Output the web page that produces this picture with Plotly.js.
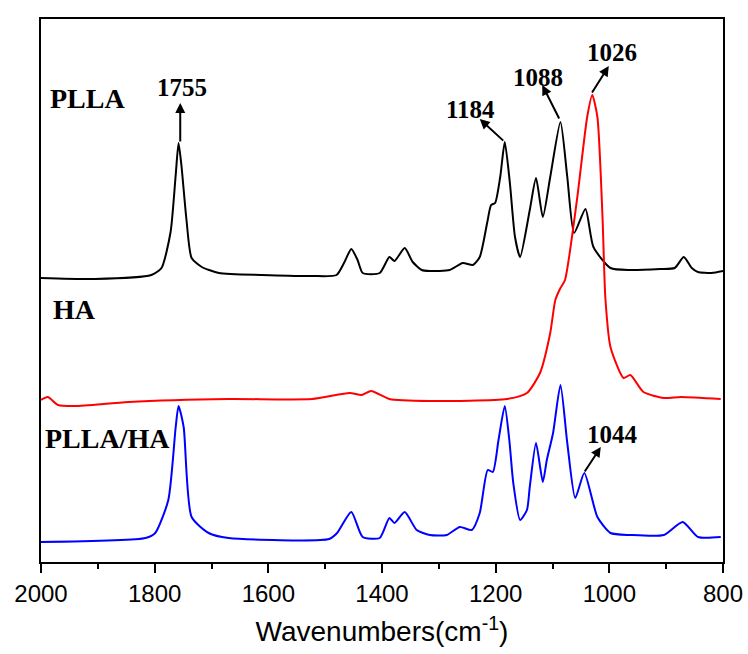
<!DOCTYPE html>
<html>
<head>
<meta charset="utf-8">
<script src="https://cdn.plot.ly/plotly-3.0.1.min.js"></script>
<style>body{margin:0;padding:0;background:#fff;}#chart{width:748px;height:654px;}</style>
</head>
<body>
<div id="chart"></div>
<script>
// Wavenumbers (cm-1) and relative intensities (arbitrary, stacked offsets)
const pllaWn = [2000,1905,1806,1788,1772,1763,1758,1753,1744,1735,1717,1687,1611,1523,1480,1466,1454,1443,1434,1404,1387,1378,1360,1346,1330,1316,1281,1258,1240,1228,1215,1208,1201,1192,1184,1175,1166,1157,1140,1129,1117,1104,1086,1074,1062,1042,1028,998,963,910,885,869,855,844,820,800];
const pllaY  = [288,287,291,298,334,391,423,401,346,308,299,293,291,290,291,304,317,306,293,293,309,305,318,304,296,295,296,303,301,309,343,361,363,389,424,383,329,309,356,388,349,389,444,389,333,357,319,298,296,297,298,309,298,294,293,295];

const haWn = [2000,1988,1970,1940,1846,1670,1523,1457,1436,1419,1387,1316,1180,1145,1122,1104,1095,1086,1078,1057,1039,1030,1021,1012,1007,998,975,963,940,904,874,804];
const haY  = [166,169,161,160,164,167,167,173,171,175,167,165,167,173,193,233,266,278,286,366,449,471,449,349,268,219,188,191,174,168,169,167];

const blendWn = [2000,1816,1799,1776,1763,1758,1749,1735,1705,1670,1493,1479,1454,1434,1404,1387,1378,1360,1339,1316,1286,1263,1242,1228,1214,1205,1195,1184,1176,1169,1157,1145,1140,1129,1117,1110,1099,1086,1074,1060,1044,1021,998,963,904,871,844,804];
const blendY  = [24,28,33,66,139,160,139,49,33,28,27,33,54,29,28,48,43,54,36,31,31,39,36,53,96,94,126,160,126,83,46,56,79,123,84,106,133,181,123,68,93,49,33,31,31,44,29,29];

const tickVals = [2000,1800,1600,1400,1200,1000,800];
const tickText = ['2000','1800','1600','1400','1200','1000','800'];

const sampleNames = ['PLLA','HA','PLLA/HA'];
const peakLabels = ['1755','1184','1088','1026','1044'];

const traces = [
  {x: pllaWn, y: pllaY, mode:'lines', line:{color:'#000000', width:2, shape:'spline', smoothing:0.6}, name:sampleNames[0]},
  {x: haWn, y: haY, mode:'lines', line:{color:'#ff0000', width:2, shape:'spline', smoothing:0.6}, name:sampleNames[1]},
  {x: blendWn, y: blendY, mode:'lines', line:{color:'#0000ff', width:2, shape:'spline', smoothing:0.6}, name:sampleNames[2]}
];

const nameFont = {family:'Liberation Serif, Times New Roman, serif', size:28, color:'#000'};
const peakFont = {family:'Liberation Serif, Times New Roman, serif', size:25, color:'#000'};

function arrow(x, y, ax, ay){
  return {x:x, y:y, ax:ax, ay:ay, xref:'x', yref:'y', axref:'x', ayref:'y', text:'', showarrow:true,
          arrowhead:2, arrowsize:1, arrowwidth:2, arrowcolor:'#000', standoff:0, startstandoff:0};
}
function label(t, x, y, font, xanchor){
  return {x:x, y:y, xref:'x', yref:'y', text:'<b>'+t+'</b>', showarrow:false, font:font, xanchor:xanchor||'center', yanchor:'middle', borderpad:0};
}

const annotations = [
  label(sampleNames[0], 1986, 468, nameFont, 'left'),
  label(sampleNames[1], 1981, 257, nameFont, 'left'),
  label(sampleNames[2], 1995, 128, nameFont, 'left'),
  label(peakLabels[0], 1752, 479, peakFont),
  label(peakLabels[1], 1245, 457, peakFont),
  label(peakLabels[2], 1126, 489, peakFont),
  label(peakLabels[3], 995, 514, peakFont),
  label(peakLabels[4], 995, 132, peakFont),
  arrow(1755, 463, 1755, 423),
  arrow(1228, 447, 1184, 424),
  arrow(1118, 481, 1087, 446),
  arrow(1001, 500, 1032, 472),
  arrow(1015, 119, 1045, 93)
];

const layout = {
  width:748, height:654,
  margin:{l:41, r:25, t:19, b:92},
  paper_bgcolor:'#fff', plot_bgcolor:'#fff',
  showlegend:false,
  xaxis:{
    range:[2000,800], tickvals:tickVals, ticktext:tickText,
    ticks:'outside', ticklen:9, tickwidth:2, tickcolor:'#000',
    minor:{dtick:100, ticks:'outside', ticklen:5, tickwidth:2, tickcolor:'#000'},
    showline:true, linewidth:2, linecolor:'#000', mirror:true,
    showgrid:false, zeroline:false,
    tickfont:{family:'Liberation Sans, Arial, sans-serif', size:24, color:'#000'},
    title:{text:'Wavenumbers(cm<sup>-1</sup>)', font:{family:'Liberation Sans, Arial, sans-serif', size:28, color:'#000'}, standoff:16}
  },
  yaxis:{
    range:[4,547], showticklabels:false, ticks:'',
    showline:true, linewidth:2, linecolor:'#000', mirror:true,
    showgrid:false, zeroline:false
  },
  annotations: annotations
};

Plotly.newPlot('chart', traces, layout, {staticPlot:true});
</script>
</body>
</html>
